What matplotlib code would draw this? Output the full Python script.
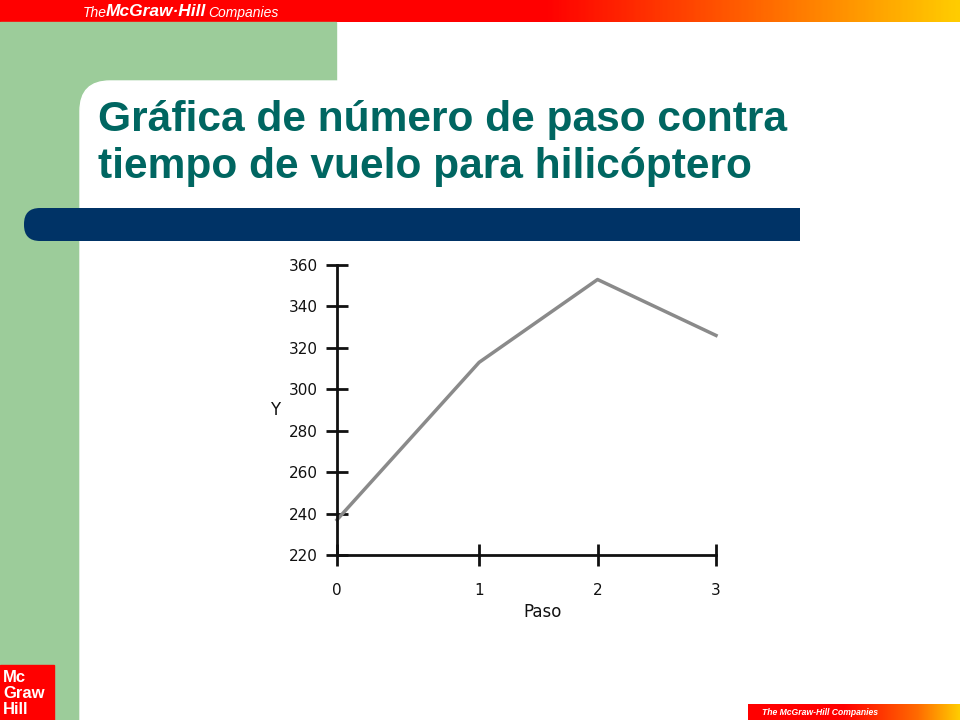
import numpy as np
import matplotlib
matplotlib.use("Agg")
import matplotlib.pyplot as plt
from matplotlib.patches import Rectangle, FancyBboxPatch
from matplotlib.colors import LinearSegmentedColormap

# ================================
# Дані
# ================================
paso = [0, 1, 2, 3]
tiempo = [237, 313, 353, 326]
y_ticks = [220, 240, 260, 280, 300, 320, 340, 360]
titulo = ["Gráfica de número de paso contra", "tiempo de vuelo para hilicóptero"]

verde = "#9ccc9a"
azul = "#003366"
teal = "#006661"

fig = plt.figure(figsize=(9.6, 7.2), dpi=100)

# ================================
# Фон слайду (пікселі, y вниз)
# ================================
bg = fig.add_axes([0, 0, 1, 1])
bg.set_xlim(0, 960)
bg.set_ylim(720, 0)
bg.axis("off")

cmap = LinearSegmentedColormap.from_list(
    "mh", [(0, "#ff0000"), (0.57, "#ff0000"), (0.8, "#ff6a00"), (1, "#ffcc00")])
grad = np.linspace(0, 1, 400).reshape(1, -1)
bg.imshow(grad, cmap=cmap, extent=[0, 960, 22, 0], aspect="auto", zorder=1)

bg.text(83, 13, "The", color="white", fontsize=10, style="italic",
        family="Liberation Sans", va="center", zorder=3)
bg.text(106, 12, "McGraw·Hill", color="white", fontsize=12.5, style="italic",
        weight="bold", family="Liberation Sans", va="center", zorder=3)
bg.text(208, 13, "Companies", color="white", fontsize=10, style="italic",
        family="Liberation Sans", va="center", zorder=3)

bg.add_patch(Rectangle((0, 22), 336, 698, color=verde, zorder=1))
bg.add_patch(FancyBboxPatch((80, 81), 950, 700,
                            boxstyle="round,pad=0,rounding_size=30",
                            color="white", zorder=2))

# синя смуга
bg.add_patch(FancyBboxPatch((24, 208), 40, 33,
                            boxstyle="round,pad=0,rounding_size=16",
                            color=azul, lw=0, zorder=3))
bg.add_patch(Rectangle((42, 208), 758, 33, color=azul, lw=0, zorder=3))

# заголовок
bg.text(98, 131, titulo[0], color=teal, fontsize=30.6, weight="bold",
        family="Liberation Sans", va="baseline", zorder=4)
bg.text(98, 178, titulo[1], color=teal, fontsize=30.6, weight="bold",
        family="Liberation Sans", va="baseline", zorder=4)

# логотип внизу зліва
bg.add_patch(Rectangle((0, 665), 54, 55, color="#ff0000", zorder=3))
for txt, yy in [("Mc", 678), ("Graw", 694), ("Hill", 710)]:
    bg.text(3, yy, txt, color="white", fontsize=12, weight="bold",
            family="Liberation Sans", va="center", zorder=4)

# смуга внизу справа
cmap2 = LinearSegmentedColormap.from_list(
    "mh2", [(0, "#ff0000"), (0.45, "#ff0000"), (0.8, "#ff6a00"), (1, "#ffcc00")])
bg.imshow(grad, cmap=cmap2, extent=[748, 960, 720, 704], aspect="auto", zorder=3)
bg.text(762, 712.5, "The McGraw-Hill Companies", color="white", fontsize=6.2,
        style="italic", weight="bold", family="Liberation Sans",
        va="center", zorder=4)

# ================================
# Графік
# ================================
ax = fig.add_axes([337 / 960, 1 - 555 / 720, (716 - 337) / 960, (555 - 265) / 720])
ax.patch.set_alpha(0)


def fwd(x):
    x = np.asarray(x, dtype=float)
    return np.where(x < 1, x * 1.2, x + 0.2)


def inv(u):
    u = np.asarray(u, dtype=float)
    return np.where(u < 1.2, u / 1.2, u - 0.2)


ax.set_xscale("function", functions=(fwd, inv))
ax.plot(paso, tiempo, color="#8a8a8a", lw=2.5, clip_on=False)

ax.set_xlim(0, 3)
ax.set_ylim(220, 360)
ax.set_xticks(paso)
ax.set_yticks(y_ticks)
ax.xaxis.set_minor_locator(plt.NullLocator())

for s in ["top", "right"]:
    ax.spines[s].set_visible(False)
for s in ["left", "bottom"]:
    ax.spines[s].set_linewidth(2)
    ax.spines[s].set_color("#111111")

ax.tick_params(axis="both", direction="inout", length=16, width=2,
               color="#111111", labelsize=11, labelcolor="#111111")
ax.tick_params(axis="x", pad=12)
ax.tick_params(axis="y", pad=6)

ax.set_xlabel("Paso", fontsize=12, color="#111111")
ax.set_ylabel("Y", fontsize=12, rotation=0, color="#111111")
ax.xaxis.set_label_coords(0.543, -0.197)
ax.yaxis.set_label_coords(-0.164, 0.5)
ax.xaxis.label.set_va("center")
ax.yaxis.label.set_va("center")
ax.yaxis.label.set_ha("center")

plt.savefig("out.png", dpi=100)
